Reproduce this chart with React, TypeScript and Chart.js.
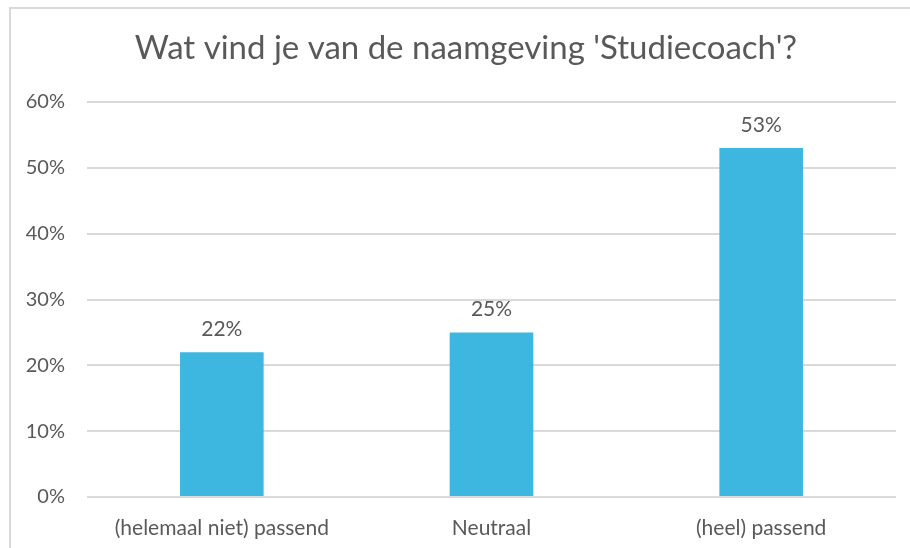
import React, { useEffect, useRef } from "react";
import { Chart, registerables } from "chart.js";

Chart.register(...registerables);

const TITLE = "Wat vind je van de naamgeving 'Studiecoach'?";
const categories = ["(helemaal niet) passend", "Neutraal", "(heel) passend"];
const values = [22, 25, 53];
const yTicks = [0, 10, 20, 30, 40, 50, 60];

const FONT = "Lato";
const TEXT = "#595959";
const BAR = "#3DB7E0";
const GRID = "#d9d9d9";

const framePlugin = {
  id: "frame",
  beforeDraw(chart: any) {
    const ctx = chart.ctx;
    ctx.save();
    ctx.fillStyle = "#ffffff";
    ctx.fillRect(0, 0, chart.width, chart.height);
    ctx.strokeStyle = "#d9d9d9";
    ctx.lineWidth = 2;
    ctx.strokeRect(10, 8, chart.width + 20, chart.height + 20);
    ctx.restore();
  },
  afterDraw(chart: any) {
    const ctx = chart.ctx;
    ctx.save();
    ctx.fillStyle = TEXT;
    ctx.font = `33px ${FONT}`;
    ctx.textAlign = "center";
    ctx.textBaseline = "middle";
    ctx.fillText(TITLE, 466, 48);
    ctx.restore();
  },
};

const labelPlugin = {
  id: "barLabels",
  afterDatasetsDraw(chart: any) {
    const ctx = chart.ctx;
    const meta = chart.getDatasetMeta(0);
    ctx.save();
    ctx.fillStyle = TEXT;
    ctx.font = `21px ${FONT}`;
    ctx.textAlign = "center";
    ctx.textBaseline = "middle";
    meta.data.forEach((bar: any, i: number) => {
      ctx.fillText(`${values[i]}%`, bar.x, bar.y - 23);
    });
    ctx.restore();
  },
};

export default function App() {
  const ref = useRef<HTMLCanvasElement>(null);
  useEffect(() => {
    document.body.style.margin = "0";
    const chart = new Chart(ref.current!, {
      type: "bar",
      data: {
        labels: categories,
        datasets: [
          {
            data: values,
            backgroundColor: BAR,
            barPercentage: 0.31,
            categoryPercentage: 1,
          },
        ],
      },
      options: {
        animation: false,
        responsive: false,
        layout: { padding: { left: 0, right: 14, top: 102, bottom: 0 } },
        plugins: {
          legend: { display: false },
          tooltip: { enabled: false },
          title: { display: false },
        },
        scales: {
          x: {
            grid: { display: false, drawTicks: false },
            border: { display: false },
            ticks: {
              color: TEXT,
              font: { family: FONT, size: 21 },
              padding: 19,
              maxRotation: 0,
            },
            afterFit: (s: any) => {
              s.height = 51;
            },
          },
          y: {
            min: 0,
            max: 60,
            afterBuildTicks: (s: any) => {
              s.ticks = yTicks.map((v) => ({ value: v }));
            },
            grid: { color: GRID, lineWidth: 2, drawTicks: false },
            border: { display: false },
            ticks: {
              color: TEXT,
              font: { family: FONT, size: 20 },
              padding: 22,
              callback: (v: any) => `${v}%`,
            },
            afterFit: (s: any) => {
              s.width = 87;
            },
          },
        },
      },
      plugins: [framePlugin, labelPlugin],
    });
    return () => chart.destroy();
  }, []);
  return <canvas ref={ref} width={910} height={548} style={{ display: "block" }} />;
}
